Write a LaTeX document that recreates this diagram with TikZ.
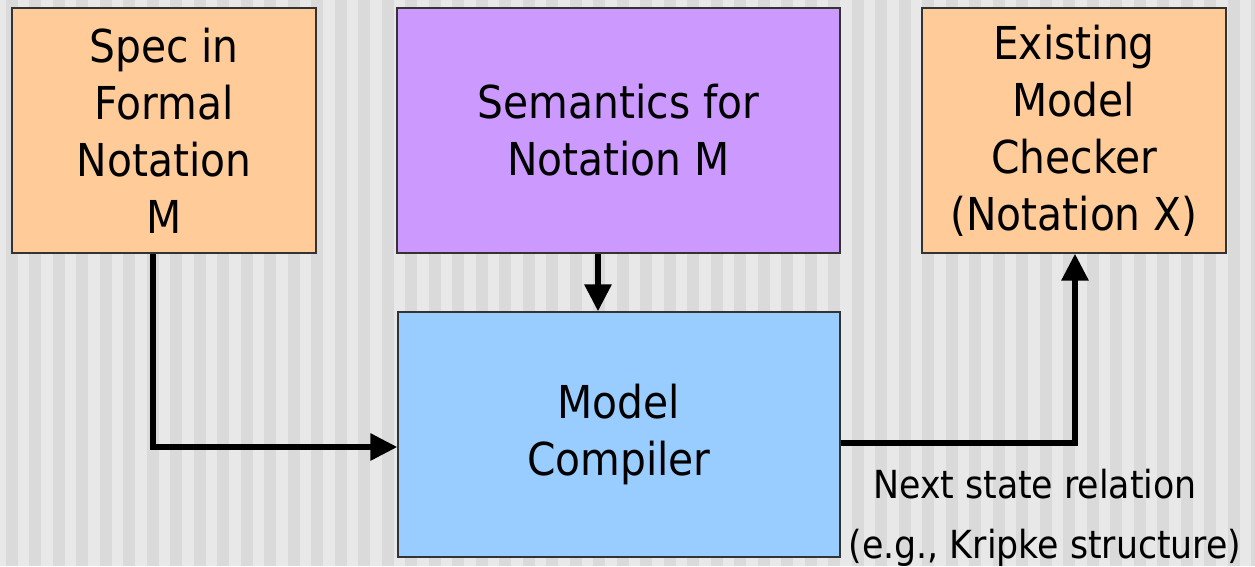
\documentclass[tikz,border=0pt]{standalone}
\usepackage{fontspec}
\setmainfont{DejaVu Sans Condensed}
\usetikzlibrary{arrows.meta,positioning}

\definecolor{stripeLight}{HTML}{E8E8E8}
\definecolor{stripeDark}{HTML}{DADADA}
\definecolor{specOrange}{HTML}{FFCC99}
\definecolor{semPurple}{HTML}{CC99FF}
\definecolor{compBlue}{HTML}{99CCFF}

\tikzset{
  block/.style={draw=black!80,line width=0.8pt,inner sep=0pt,align=center,
    font=\fontsize{25.8}{32.4}\selectfont},
  flow/.style={line width=0.12cm,-{Triangle[length=0.54cm,width=0.52cm]}},
  note/.style={font=\fontsize{22}{26}\selectfont}
}

\begin{document}
\begin{tikzpicture}[x=0.02cm,y=-0.02cm]
  \useasboundingbox (0,0) rectangle (1255,566);
  % background
  \begin{scope}
    \clip (0,0) rectangle (1255,566);
    \fill[stripeLight] (0,0) rectangle (1255,566);
    \foreach \k in {0,...,53}
      \fill[stripeDark] ({5.5+23.5*\k},0) rectangle ({17.5+23.5*\k},566);
  \end{scope}

  % boxes
  \node[block,fill=specOrange,minimum width=6.08cm,minimum height=4.9cm] (spec) at (164,130.5)
    {Spec in\\Formal\\Notation\\M};
  \node[block,fill=semPurple,minimum width=8.86cm,minimum height=4.9cm] (sem) at (618.5,130.5)
    {Semantics for\\Notation M};
  \node[block,fill=specOrange,minimum width=6.08cm,minimum height=4.9cm] (mc) at (1074,130.5)
    {Existing\\Model\\Checker\\(Notation X)};
  \node[block,fill=compBlue,minimum width=8.84cm,minimum height=4.9cm] (comp) at (619,434.5)
    {Model\\Compiler};

  % connectors
  \draw[flow] (spec.south -| 153,0) |- (comp.west |- 0,447);
  \draw[flow] (sem.south -| 598,0) -- (comp.north -| 598,0);
  \draw[flow] (comp.east |- 0,443) -| (mc.south -| 1075,0);

  % labels
  \node[note] (rel) at (1035,484) {Next state relation};
  \node[note] (ex) at (1045,548) {(e.g., Kripke structure)};
\end{tikzpicture}
\end{document}
